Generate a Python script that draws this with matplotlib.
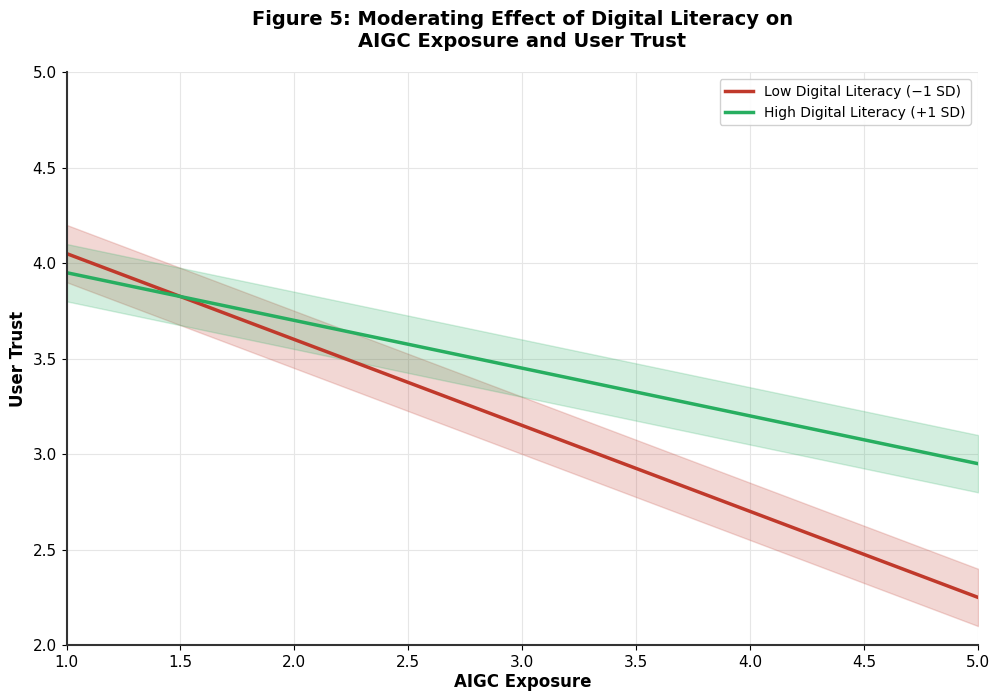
import matplotlib.pyplot as plt

# AIGC exposure levels and predicted trust (simple slopes)
exposure = [1.0, 1.5, 2.0, 2.5, 3.0, 3.5, 4.0, 4.5, 5.0]
trust_low = [4.05, 3.825, 3.6, 3.375, 3.15, 2.925, 2.7, 2.475, 2.25]
trust_high = [3.95, 3.825, 3.7, 3.575, 3.45, 3.325, 3.2, 3.075, 2.95]
band = 0.15

red = '#c0392b'
green = '#27ae60'

fig, ax = plt.subplots(figsize=(9.93, 6.93), dpi=100)
fig.subplots_adjust(left=0.067, right=0.985, top=0.896, bottom=0.069)

ax.plot(exposure, trust_low, color=red, lw=2.5, label='Low Digital Literacy (\u22121 SD)')
ax.fill_between(exposure, [v - band for v in trust_low], [v + band for v in trust_low],
                color=red, alpha=0.2)
ax.plot(exposure, trust_high, color=green, lw=2.5, label='High Digital Literacy (+1 SD)')
ax.fill_between(exposure, [v - band for v in trust_high], [v + band for v in trust_high],
                color=green, alpha=0.2)

ax.set_xlim(1, 5)
ax.set_ylim(2, 5)
ax.set_xlabel('AIGC Exposure', fontsize=12, fontweight='bold', labelpad=2)
ax.set_ylabel('User Trust', fontsize=12, fontweight='bold')
ax.set_title('Figure 5: Moderating Effect of Digital Literacy on\nAIGC Exposure and User Trust',
             fontsize=14, fontweight='bold', pad=18)
ax.tick_params(labelsize=11)
ax.grid(True, color='#e6e6e6', lw=0.8)
ax.set_axisbelow(True)
for s in ['top', 'right']:
    ax.spines[s].set_visible(False)
for s in ['left', 'bottom']:
    ax.spines[s].set_linewidth(1.5)
    ax.spines[s].set_color('#333333')

ax.legend(loc='upper right', fontsize=10, framealpha=0.9)

plt.savefig('out.png', dpi=100)
